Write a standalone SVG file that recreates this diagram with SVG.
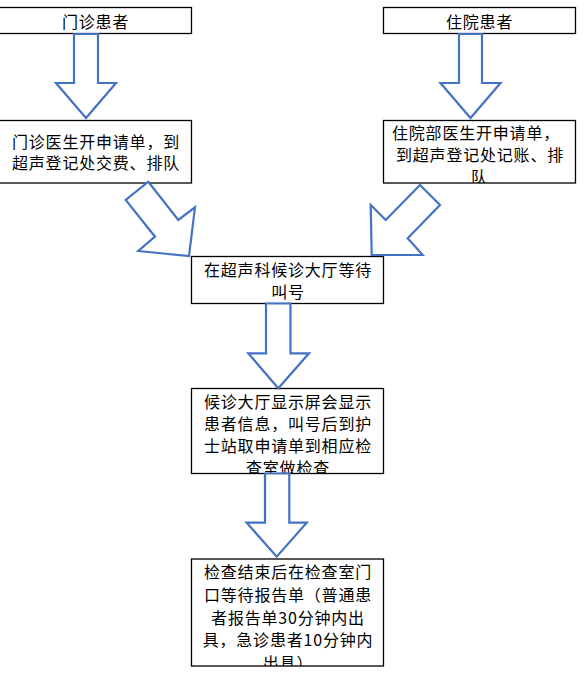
<svg xmlns="http://www.w3.org/2000/svg" width="588" height="674" viewBox="0 0 588 674">
<style>
.box{fill:#fff;stroke:#000;stroke-width:1.3}
.arr{fill:#fff;stroke:#4472C4;stroke-width:2.2;stroke-linejoin:miter}
text{font-family:"Noto Sans CJK SC","Liberation Sans",sans-serif;font-size:16px;fill:#000;text-anchor:middle;letter-spacing:0.8px}
</style>
<defs>
<clipPath id="c4"><rect x="383.5" y="120" width="192" height="63"/></clipPath>
<clipPath id="c6"><rect x="191.5" y="388.5" width="192" height="85"/></clipPath>
<clipPath id="c7"><rect x="191.5" y="559" width="192" height="107"/></clipPath>
</defs>
<rect width="588" height="674" fill="#fff"/>
<g id="n1">
<rect class="box" x="-1" y="7.5" width="192.5" height="26"/>
<text x="95.5" y="27.5">门诊患者</text>
</g>
<g id="n2">
<rect class="box" x="-1" y="120.5" width="192.5" height="62.5"/>
<text x="96" y="147.5">门诊医生开申请单，到</text>
<text x="96" y="169.3">超声登记处交费、排队</text>
</g>
<g id="n3">
<rect class="box" x="383.5" y="7.5" width="192" height="26"/>
<text x="479.5" y="27.5">住院患者</text>
</g>
<g id="n4">
<rect class="box" x="383.5" y="120.5" width="192" height="62.5"/>
<g clip-path="url(#c4)">
<text x="476" y="139.3">住院部医生开申请单，</text>
<text x="480" y="161">到超声登记处记账、排</text>
<text x="479.5" y="182.7">队</text>
</g>
</g>
<g id="n5">
<rect class="box" x="191.5" y="256.5" width="192" height="47"/>
<text x="288" y="276">在超声科候诊大厅等待</text>
<text x="288" y="297.7">叫号</text>
</g>
<g id="n6">
<rect class="box" x="191.5" y="388.5" width="192" height="85"/>
<g clip-path="url(#c6)">
<text x="288" y="407.7">候诊大厅显示屏会显示</text>
<text x="288" y="430">患者信息，叫号后到护</text>
<text x="288" y="452.2">士站取申请单到相应检</text>
<text x="288" y="474.4">查室做检查</text>
</g>
</g>
<g id="n7">
<rect class="box" x="191.5" y="559" width="192" height="107"/>
<g clip-path="url(#c7)">
<text x="288" y="577.7">检查结束后在检查室门</text>
<text x="288" y="600.6">口等待报告单（普通患</text>
<text x="288" y="623.5">者报告单30分钟内出</text>
<text x="288" y="646.4">具，急诊患者10分钟内</text>
<text x="288" y="669.3">出具）</text>
</g>
</g>
<g id="connectors">
<polygon class="arr" points="74,34 98,34 98,83 116,83 86,118 56,83 74,83"/>
<polygon class="arr" points="459,34 482,34 482,83 500.5,83 470.5,118 440.5,83 459,83"/>
<polygon class="arr" points="148.3,181.7 178.3,220 195,207.3 189,256 138.3,251 155,236.7 125.7,200"/>
<polygon class="arr" points="420,185 440,205 407.7,238.3 422.7,255 371.7,255 370.7,205 385.7,220"/>
<polygon class="arr" points="266,303.5 290.5,303.5 290.5,353.3 309,353.3 278.3,388.3 248.3,353.3 266,353.3"/>
<polygon class="arr" points="265,473.5 289.3,473.5 289.3,522.7 306.7,522.7 276.7,556.7 246.7,522.7 265,522.7"/>
</g>
</svg>
